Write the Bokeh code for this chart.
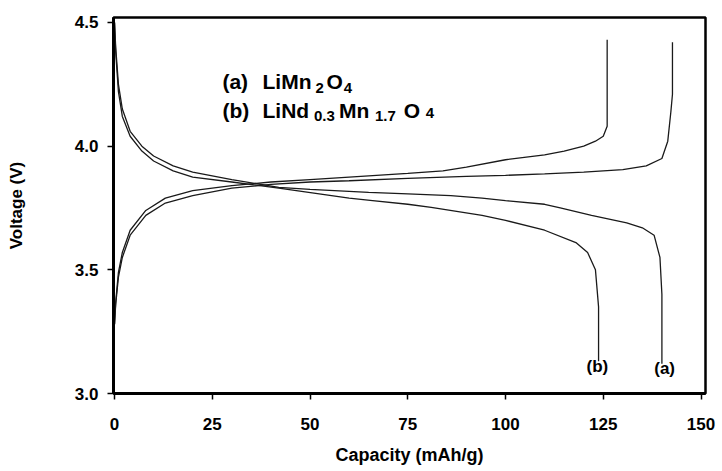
from bokeh.plotting import figure
from bokeh.models import Range1d, FixedTicker, CustomJSTickFormatter
from bokeh.core.properties import value
from bokeh.embed import file_html
from bokeh.resources import INLINE

# ---- data ----
charge_a_x = [0, 0.3, 1, 2, 4, 8, 13, 20, 30, 40, 50, 60, 75, 90, 100, 110, 120, 130, 136, 140, 141.5, 142.3, 142.7, 142.7]
charge_a_v = [3.28, 3.36, 3.47, 3.55, 3.64, 3.72, 3.77, 3.80, 3.83, 3.845, 3.855, 3.86, 3.87, 3.878, 3.882, 3.888, 3.895, 3.905, 3.92, 3.95, 4.02, 4.14, 4.21, 4.42]

charge_b_x = [0, 0.3, 1, 2, 4, 8, 13, 20, 30, 40, 50, 60, 75, 84, 90, 100, 110, 115, 120, 123, 125, 126, 126]
charge_b_v = [3.28, 3.37, 3.49, 3.57, 3.66, 3.74, 3.79, 3.82, 3.84, 3.855, 3.865, 3.875, 3.89, 3.90, 3.915, 3.945, 3.965, 3.98, 4.00, 4.02, 4.04, 4.08, 4.43]

discharge_a_x = [0, 0.3, 1, 2, 4, 7, 10, 15, 20, 30, 42, 50, 65, 75, 86, 94, 100, 110, 114, 122, 131, 135, 138, 139.5, 140, 140]
discharge_a_v = [4.50, 4.40, 4.25, 4.15, 4.06, 4.00, 3.96, 3.92, 3.895, 3.865, 3.833, 3.825, 3.813, 3.807, 3.80, 3.79, 3.78, 3.765, 3.75, 3.72, 3.69, 3.67, 3.64, 3.55, 3.40, 3.12]

discharge_b_x = [0, 0.3, 1, 2, 4, 7, 10, 15, 20, 30, 42, 51, 60, 66, 75, 81, 94, 100, 110, 118, 121, 123, 123.8, 123.8]
discharge_b_v = [4.50, 4.38, 4.22, 4.12, 4.04, 3.98, 3.94, 3.90, 3.875, 3.855, 3.83, 3.81, 3.79, 3.78, 3.765, 3.752, 3.72, 3.70, 3.66, 3.61, 3.57, 3.50, 3.35, 3.13]

x_ticks = [0, 25, 50, 75, 100, 125, 150]
y_ticks = [3.0, 3.5, 4.0, 4.5]

FONT = "Liberation Sans"

p = figure(width=722, height=471, output_backend="svg", toolbar_location=None,
           x_range=Range1d(-0.26, 151.15), y_range=Range1d(3.0, 4.52),
           min_border_left=113, min_border_right=17, min_border_top=17, min_border_bottom=78)
p.background_fill_color = "white"
p.border_fill_color = "white"
p.grid.visible = False
p.outline_line_color = "black"
p.outline_line_width = 2.5

for ax in (p.xaxis[0], p.yaxis[0]):
    ax.axis_line_width = 3
    ax.axis_line_color = "black"
    ax.major_tick_out = 6
    ax.major_tick_in = 0
    ax.major_tick_line_width = 1.5
    ax.minor_tick_out = 0
    ax.minor_tick_in = 0
    ax.major_label_text_font = FONT
    ax.major_label_text_font_style = "bold"
    ax.major_label_text_font_size = "17px"
    ax.major_label_text_color = "black"
    ax.axis_label_text_font = FONT
    ax.axis_label_text_font_style = "bold"
    ax.axis_label_text_color = "black"

p.xaxis.axis_label_text_font_size = "18px"
p.yaxis.axis_label_text_font_size = "17px"
p.xaxis.ticker = FixedTicker(ticks=x_ticks)
p.yaxis.ticker = FixedTicker(ticks=y_ticks)
p.yaxis.formatter = CustomJSTickFormatter(code="return tick.toFixed(1);")
p.xaxis.axis_label = "Capacity (mAh/g)"
p.yaxis.axis_label = "Voltage (V)"
p.xaxis.major_label_standoff = 18
p.xaxis.axis_label_standoff = 12
p.yaxis.major_label_standoff = 9
p.yaxis.axis_label_standoff = 46

LC = "#1a1a1a"
for xs, vs in ((charge_a_x, charge_a_v), (charge_b_x, charge_b_v),
               (discharge_a_x, discharge_a_v), (discharge_b_x, discharge_b_v)):
    p.line(xs, vs, line_color=LC, line_width=1.3)

def txt(x, y, s, size, align="left", baseline="alphabetic"):
    p.text(x=[x], y=[y], text=[s], text_font=value(FONT), text_font_style="bold",
           text_font_size=size, text_color="black", text_align=align, text_baseline=baseline)

MAIN = "21px"
SUB = "15px"
# legend text (a)
txt(27.6, 4.261, "(a)", MAIN)
txt(37.85, 4.261, "LiMn", MAIN)
txt(51.4, 4.237, "2", SUB)
txt(54.2, 4.261, "O", MAIN)
txt(58.6, 4.237, "4", SUB)
# legend text (b)
txt(27.6, 4.144, "(b)", MAIN)
txt(37.85, 4.144, "LiNd", MAIN)
txt(51.0, 4.12, "0.3", SUB)
txt(57.4, 4.144, "Mn", MAIN)
txt(66.6, 4.12, "1.7", SUB)
txt(74.0, 4.144, "O", MAIN)
txt(79.6, 4.132, "4", SUB)

# curve end labels
txt(123.5, 3.11, "(b)", "17px", align="center", baseline="middle")
txt(140.7, 3.10, "(a)", "17px", align="center", baseline="middle")

open("out.html", "w").write(file_html(p, INLINE))
